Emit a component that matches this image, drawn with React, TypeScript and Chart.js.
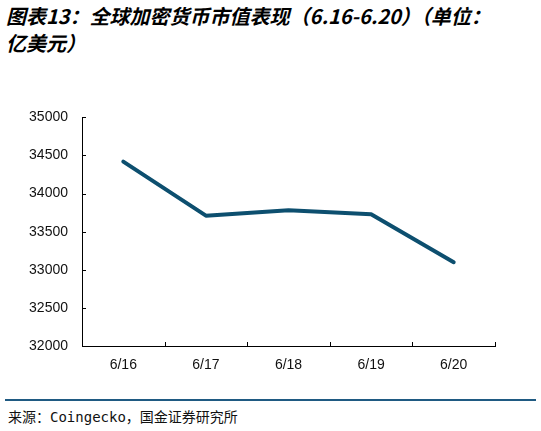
import { useEffect, useRef } from "react";
import { Chart, registerables } from "chart.js";

Chart.register(...registerables);

const dates: string[] = ["6/16", "6/17", "6/18", "6/19", "6/20"];
const marketCap: number[] = [34420, 33710, 33780, 33730, 33100];
const yMin = 32000;
const yMax = 35000;
const yStep = 500;

// small ticks pointing into the plot, like the original
const innerTicks = {
    id: "innerTicks",
    afterDraw(chart: any) {
        const { ctx, chartArea, scales } = chart;
        const x = scales.x;
        const y = scales.y;
        ctx.save();
        ctx.strokeStyle = "#000";
        ctx.lineWidth = 1;
        ctx.beginPath();
        y.ticks.forEach((_t: any, i: number) => {
            const py = Math.round(y.getPixelForTick(i)) + 0.5;
            ctx.moveTo(chartArea.left, py);
            ctx.lineTo(chartArea.left + 4, py);
        });
        const half = (x.getPixelForValue(1) - x.getPixelForValue(0)) / 2;
        for (let i = 0; i <= dates.length; i++) {
            const px = Math.round(x.getPixelForValue(0) - half + i * half * 2) + 0.5;
            ctx.moveTo(px, chartArea.bottom);
            ctx.lineTo(px, chartArea.bottom - 4);
        }
        ctx.stroke();
        ctx.restore();
    },
};

export default function App() {
    const canvasRef = useRef<HTMLCanvasElement | null>(null);
    const chartRef = useRef<Chart | null>(null);

    useEffect(() => {
        if (!canvasRef.current) return;
        if (chartRef.current) chartRef.current.destroy();

        chartRef.current = new Chart(canvasRef.current, {
            type: "line",
            data: {
                labels: dates,
                datasets: [
                    {
                        label: "全球加密货币市值",
                        data: marketCap,
                        borderColor: "#0d4f6f",
                        borderWidth: 4,
                        pointRadius: 0,
                        tension: 0,
                        borderCapStyle: "round",
                        borderJoinStyle: "round",
                    },
                ],
            },
            options: {
                animation: false,
                responsive: false,
                layout: { padding: { top: 11, right: 46, left: 0, bottom: 0 } },
                plugins: { legend: { display: false }, tooltip: { enabled: false } },
                scales: {
                    x: {
                        offset: true,
                        grid: { display: false, drawTicks: false },
                        border: { display: true, color: "#000", width: 1 },
                        ticks: {
                            color: "#111",
                            padding: 11,
                            font: { family: "'Liberation Sans', Arial, sans-serif", size: 14 },
                        },
                        afterFit: (s: any) => {
                            s.height = 44;
                        },
                    },
                    y: {
                        min: yMin,
                        max: yMax,
                        grid: { display: false, drawTicks: false },
                        border: { display: true, color: "#000", width: 1 },
                        ticks: {
                            stepSize: yStep,
                            color: "#111",
                            padding: 14,
                            font: { family: "'Liberation Sans', Arial, sans-serif", size: 14 },
                            callback: (v: any) => String(v),
                        },
                        afterFit: (s: any) => {
                            s.width = 82;
                        },
                    },
                },
            },
            plugins: [innerTicks],
        });

        return () => {
            chartRef.current?.destroy();
            chartRef.current = null;
        };
    }, []);

    return (
        <div style={{ position: "absolute", left: 0, top: 0, width: 541, height: 431, background: "#fff" }}>
            <div
                style={{
                    position: "absolute",
                    left: 6,
                    top: 2,
                    fontFamily: "'Noto Sans CJK SC', sans-serif",
                    fontStyle: "italic",
                    fontWeight: 700,
                    fontSize: 20,
                    lineHeight: "27px",
                    color: "#000",
                    whiteSpace: "nowrap",
                }}
            >
                图表13：全球加密货币市值表现（6.16-6.20）（单位：
                <br />
                亿美元）
            </div>
            <canvas
                ref={canvasRef}
                width={541}
                height={295}
                style={{ position: "absolute", left: 0, top: 95, width: 541, height: 295 }}
            />
            <div
                style={{
                    position: "absolute",
                    left: 5,
                    top: 399,
                    width: 531,
                    height: 2,
                    background: "#1f5a82",
                }}
            />
            <div
                style={{
                    position: "absolute",
                    left: 8,
                    top: 407,
                    fontFamily: "'DejaVu Sans Mono', 'Noto Sans CJK SC', monospace",
                    fontSize: 14,
                    lineHeight: "20px",
                    color: "#111",
                    whiteSpace: "nowrap",
                }}
            >
                来源：Coingecko，国金证券研究所
            </div>
        </div>
    );
}
